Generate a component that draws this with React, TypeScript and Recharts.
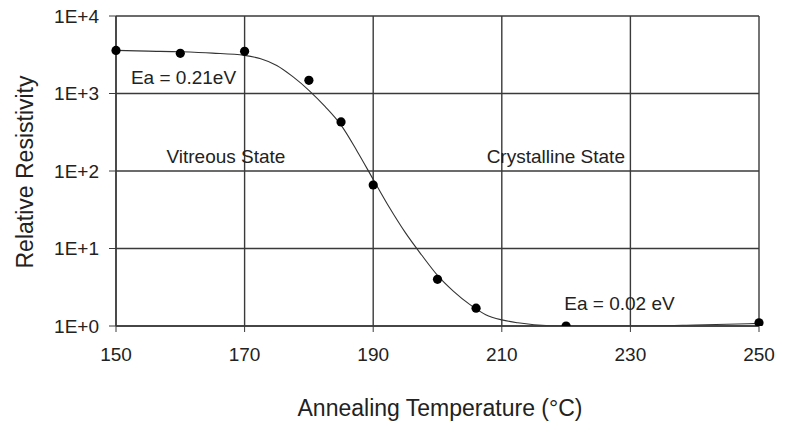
import { CartesianGrid, ComposedChart, Line, ReferenceDot, Scatter, XAxis, YAxis } from 'recharts'

document.body.style.margin = '0'

// measured points (annealing temperature °C, relative resistivity)
const measuredTemps = [150, 160, 170, 180, 185, 190, 200, 206, 220, 250]
const measuredValues = [3600, 3300, 3500, 1480, 430, 66, 4.0, 1.7, 1.0, 1.1]

// fitted curve
const fitTemps = [150, 155, 160, 165, 170, 172.5, 175, 177.5, 180, 182.5, 185, 187.5, 190, 192.5, 195, 197.5, 200, 202.5, 205, 207.5, 210, 212.5, 215, 220, 230, 240, 250]
const fitValues = [3600, 3520, 3450, 3320, 3100, 2800, 2300, 1650, 1100, 680, 390, 180, 78, 34, 16, 8.3, 4.5, 2.8, 1.9, 1.4, 1.2, 1.1, 1.04, 1.0, 1.0, 1.03, 1.08]

const xTicks = [150, 170, 190, 210, 230, 250]
const yTicks = [1, 10, 100, 1000, 10000]

const notes = [
  { t: 160.5, r: 1630, text: 'Ea = 0.21eV' },
  { t: 167.1, r: 156, text: 'Vitreous State' },
  { t: 218.4, r: 156, text: 'Crystalline State' },
  { t: 228.3, r: 1.98, text: 'Ea = 0.02 eV' },
]

const measured = measuredTemps.map((t, i) => ({ t, r: measuredValues[i] }))
const fit = fitTemps.map((t, i) => ({ t, r: fitValues[i] }))

const FONT = 'Liberation Sans, Arial, sans-serif'
const INK = '#222'

export default function App() {
  return (
    <div style={{ width: 786, height: 423, background: '#fff' }}>
      <ComposedChart width={786} height={423} margin={{ top: 16, right: 27, bottom: 0, left: 0 }}>
        <CartesianGrid stroke="#3a3a3a" strokeWidth={1.4} />
        <XAxis
          type="number"
          dataKey="t"
          domain={[150, 250]}
          ticks={xTicks}
          height={97}
          tickSize={6}
          tickMargin={16}
          stroke="#3a3a3a"
          axisLine={{ strokeWidth: 1.4 }}
          tick={{ fill: INK, fontSize: 19, fontFamily: FONT }}
          label={() => (
            <text x={440} y={416} textAnchor="middle" fill={INK} fontSize={23} fontFamily={FONT}>
              Annealing Temperature (°C)
            </text>
          )}
        />
        <YAxis
          type="number"
          dataKey="r"
          scale="log"
          domain={[1, 10000]}
          allowDataOverflow
          ticks={yTicks}
          width={116}
          tickSize={7}
          tickMargin={10}
          stroke="#3a3a3a"
          axisLine={{ strokeWidth: 1.4 }}
          tick={{ fill: INK, fontSize: 19, fontFamily: FONT }}
          tickFormatter={(v: number) => `1E+${Math.round(Math.log10(v))}`}
          label={() => (
            <text x={33} y={172} transform="rotate(-90 33 172)" textAnchor="middle" fill={INK} fontSize={23} fontFamily={FONT}>
              Relative Resistivity
            </text>
          )}
        />
        <Line
          data={fit}
          dataKey="r"
          type="monotone"
          stroke="#333"
          strokeWidth={1.1}
          dot={false}
          activeDot={false}
          isAnimationActive={false}
        />
        <Scatter
          data={measured}
          dataKey="r"
          fill="#000"
          shape={(p: any) => <circle cx={p.cx} cy={p.cy} r={4.6} fill="#000" />}
          isAnimationActive={false}
        />
        {notes.map(n => (
          <ReferenceDot
            key={n.text}
            x={n.t}
            y={n.r}
            r={0}
            fill="none"
            stroke="none"
            label={{ value: n.text, position: 'center', fill: INK, fontSize: 19, fontFamily: FONT }}
          />
        ))}
      </ComposedChart>
    </div>
  )
}
